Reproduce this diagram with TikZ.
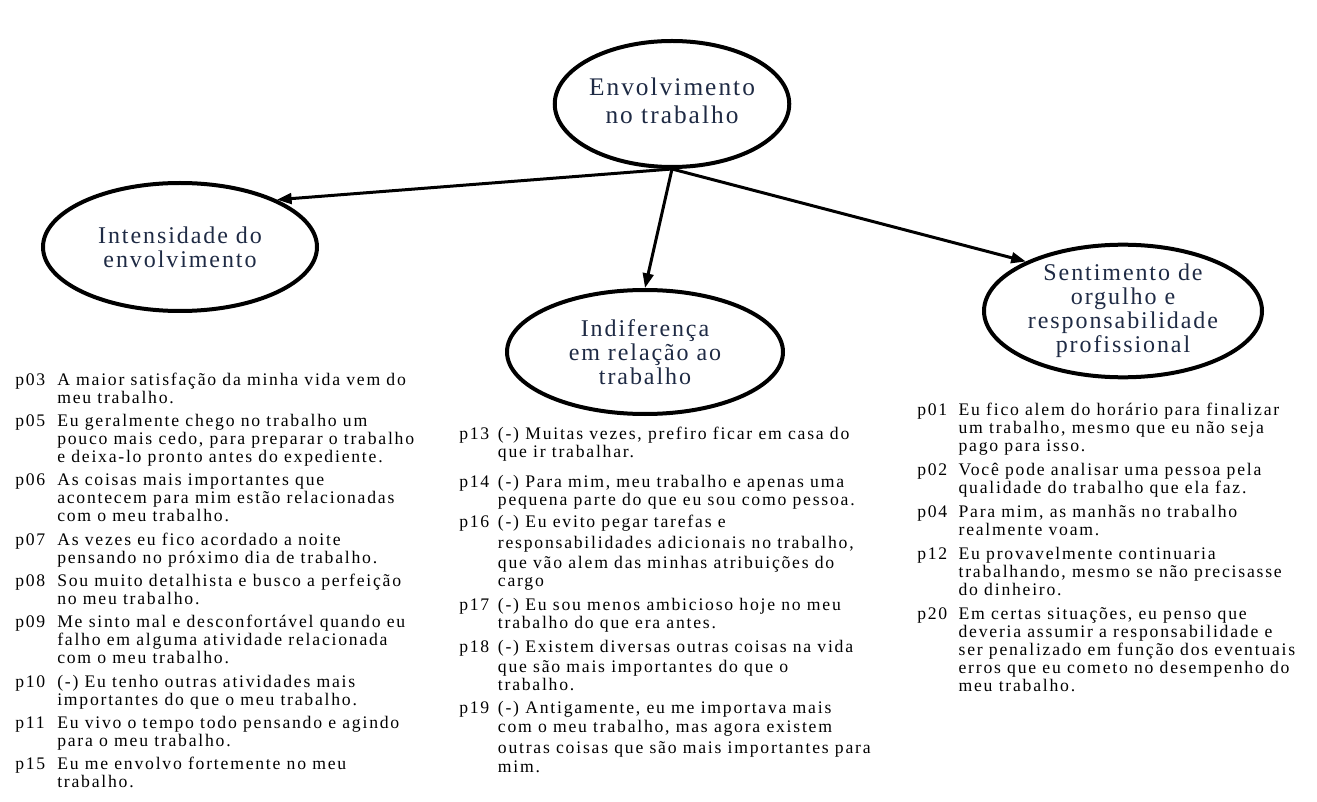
\documentclass[tikz,border=0pt]{standalone}
\usepackage{fontspec}
\setmainfont{Liberation Serif}
\newfontfamily\ovalfont[LetterSpace=8]{Liberation Serif}
\newfontfamily\itemfont[LetterSpace=10]{Liberation Serif}
\usetikzlibrary{shapes.geometric,arrows.meta}
\definecolor{ovaltext}{RGB}{30,42,68}

\begin{document}
\begin{tikzpicture}[x=0.75pt,y=-0.75pt]
	\useasboundingbox (0,0) rectangle (1317,802);
	\begin{scope}[every node/.style={ellipse,draw,line width=3pt,inner sep=0pt,align=center,text=ovaltext,font=\ovalfont\fontsize{18}{18}\selectfont}]
		\node[minimum width=175.5pt,minimum height=94.5pt,font=\ovalfont\fontsize{19}{21}\selectfont] (envolv) at (672,104) {\raisebox{6pt}{\begin{tabular}{@{}c@{}}Envolvimento\\no trabalho\end{tabular}}};
		\node[minimum width=205.5pt,minimum height=96pt] (intens) at (180,247) {Intensidade do\\envolvimento};
		\node[minimum width=207pt,minimum height=93pt] (indif) at (645,352) {Indiferença\\em relação ao\\trabalho};
		\node[minimum width=208.5pt,minimum height=91.5pt] (orgulho) at (1123,311) {Sentimento de\\orgulho e\\responsabilidade\\profissional};
	\end{scope}

	\begin{scope}[line width=2.25pt,-{Triangle[length=11pt,width=8pt]}]
		\draw (envolv.south) -- (intens.26);
		\draw (envolv.south) -- (indif.north);
		\draw (envolv.south) -- (orgulho.153.7);
	\end{scope}

	\begin{scope}[every node/.style={anchor=base west,inner sep=0pt,font=\itemfont\fontsize{13.25}{13.5}\selectfont}]
		\node (intensitens) at (15,385) {\begin{tabular}[t]{@{}p{31.5pt}@{}l@{}}
			p03 & A maior satisfação da minha vida vem do\\
			    & meu trabalho.\\[4pt]
			p05 & Eu geralmente chego no trabalho um\\
			    & pouco mais cedo, para preparar o trabalho\\
			    & e deixa-lo pronto antes do expediente.\\[4pt]
			p06 & As coisas mais importantes que\\
			    & acontecem para mim estão relacionadas\\
			    & com o meu trabalho.\\[4pt]
			p07 & As vezes eu fico acordado a noite\\
			    & pensando no próximo dia de trabalho.\\[4pt]
			p08 & Sou muito detalhista e busco a perfeição\\
			    & no meu trabalho.\\[4pt]
			p09 & Me sinto mal e desconfortável quando eu\\
			    & falho em alguma atividade relacionada\\
			    & com o meu trabalho.\\[4pt]
			p10 & (-) Eu tenho outras atividades mais\\
			    & importantes do que o meu trabalho.\\[4pt]
			p11 & Eu vivo o tempo todo pensando e agindo\\
			    & para o meu trabalho.\\[4pt]
			p15 & Eu me envolvo fortemente no meu\\
			    & trabalho.
		\end{tabular}};

		\node (indifitens) at (459,439) {\begin{tabular}[t]{@{}p{29pt}@{}l@{}}
			p13 & (-) Muitas vezes, prefiro ficar em casa do\\
			    & que ir trabalhar.\\[9pt]
			p14 & (-) Para mim, meu trabalho e apenas uma\\
			    & pequena parte do que eu sou como pessoa.\\[3pt]
			p16 & (-) Eu evito pegar tarefas e\\[2.25pt]
			    & responsabilidades adicionais no trabalho,\\[1.5pt]
			    & que vão alem das minhas atribuições do\\
			    & cargo\\[4.5pt]
			p17 & (-) Eu sou menos ambicioso hoje no meu\\
			    & trabalho do que era antes.\\[4.5pt]
			p18 & (-) Existem diversas outras coisas na vida\\[1.5pt]
			    & que são mais importantes do que o\\
			    & trabalho.\\[3.75pt]
			p19 & (-) Antigamente, eu me importava mais\\[0.75pt]
			    & com o meu trabalho, mas agora existem\\[2.25pt]
			    & outras coisas que são mais importantes para\\[0.75pt]
			    & mim.
		\end{tabular}};

		\node (orgulhoitens) at (917,415) {\begin{tabular}[t]{@{}p{31pt}@{}l@{}}
			p01 & Eu fico alem do horário para finalizar\\
			    & um trabalho, mesmo que eu não seja\\
			    & pago para isso.\\[4.5pt]
			p02 & Você pode analisar uma pessoa pela\\
			    & qualidade do trabalho que ela faz.\\[4.5pt]
			p04 & Para mim, as manhãs no trabalho\\
			    & realmente voam.\\[4.5pt]
			p12 & Eu provavelmente continuaria\\
			    & trabalhando, mesmo se não precisasse\\
			    & do dinheiro.\\[4.5pt]
			p20 & Em certas situações, eu penso que\\
			    & deveria assumir a responsabilidade e\\
			    & ser penalizado em função dos eventuais\\
			    & erros que eu cometo no desempenho do\\
			    & meu trabalho.
		\end{tabular}};
	\end{scope}
\end{tikzpicture}
\end{document}
